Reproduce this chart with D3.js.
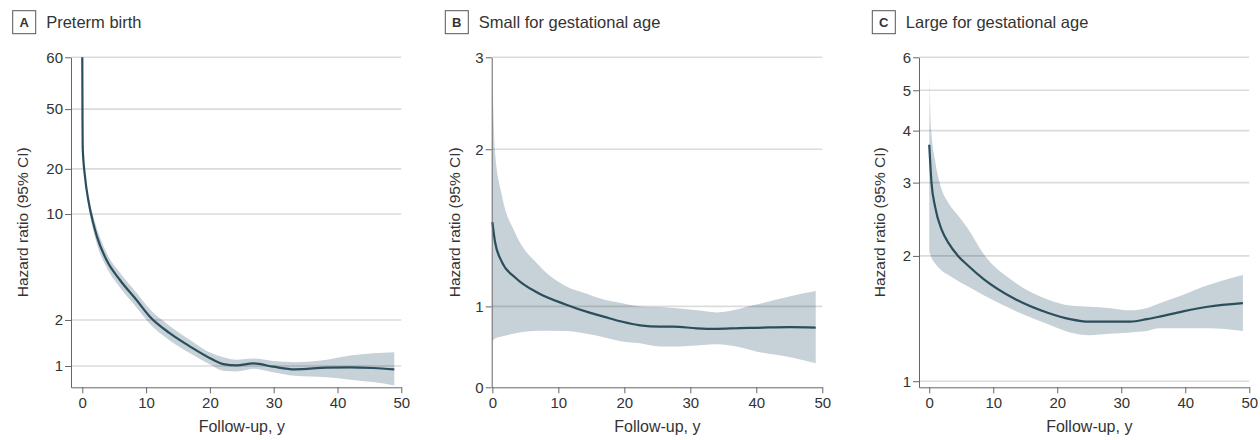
<!DOCTYPE html>
<html>
<head>
<meta charset="utf-8">
<script src="https://cdn.jsdelivr.net/npm/d3@7"></script>
<style>
  body { margin: 0; background: #fff; }
  svg { display: block; font-family: "Liberation Sans", Arial, sans-serif; }
</style>
</head>
<body>
<svg width="1260" height="440"></svg>
<script>
// follow-up years
var xTicks = [0, 10, 20, 30, 40, 50];

// A: preterm birth
var xA   = [0, 0.03, 0.06, 0.42, 0.94, 1.72, 2.3, 3.8, 5.9, 8.5, 10.6, 13.7, 16.9, 20.1, 22.1, 24.2, 26.8, 29.9, 33.3, 38.3, 42, 45.6, 48.9];
var estA = [60, 48, 28, 17.8, 12.4, 8.7, 7.1, 4.97, 3.67, 2.71, 2.10, 1.64, 1.34, 1.12, 1.03, 1.01, 1.04, 0.99, 0.95, 0.975, 0.98, 0.97, 0.95];
var lowA = [60, 46.5, 26.5, 16.7, 11.5, 7.8, 6.3, 4.45, 3.28, 2.42, 1.88, 1.47, 1.21, 1.02, 0.93, 0.92, 0.96, 0.91, 0.86, 0.84, 0.81, 0.78, 0.74];
var upA  = [60, 49.5, 29.5, 19, 13.4, 9.7, 8.0, 5.55, 4.1, 3.03, 2.35, 1.83, 1.48, 1.22, 1.14, 1.10, 1.12, 1.08, 1.06, 1.1, 1.17, 1.21, 1.23];
var yTicksA = [1, 2, 10, 20, 50, 60];
var yLabelsA = ["1", "2", "10", "20", "50", "60"];

// B: small for gestational age
var xB   = [0, 0.4, 1.4, 3.5, 7, 11, 14.5, 17, 19.5, 22.4, 25.4, 27.4, 31, 34, 37.5, 40, 45, 49];
var estB = [1.45, 1.33, 1.22, 1.135, 1.06, 1.01, 0.975, 0.955, 0.936, 0.92, 0.915, 0.915, 0.908, 0.906, 0.909, 0.91, 0.913, 0.911];
var upB  = [2.79, 1.98, 1.64, 1.38, 1.20, 1.095, 1.055, 1.03, 1.015, 1.0, 0.997, 0.993, 0.983, 0.974, 0.99, 1.008, 1.045, 1.07];
var lowB = [0.857, 0.868, 0.876, 0.888, 0.898, 0.897, 0.885, 0.872, 0.858, 0.85, 0.838, 0.838, 0.842, 0.846, 0.835, 0.82, 0.80, 0.778];
var yTicksB = [0.7, 1, 2, 3];
var yLabelsB = ["0", "1", "2", "3"];

// C: large for gestational age
var xC   = [0, 0.35, 0.9, 2, 3, 4.5, 6, 8.5, 13.4, 18.6, 22, 25, 28, 31.4, 34, 36, 39.5, 43.5, 49];
var estC = [3.70, 3.0, 2.63, 2.30, 2.15, 2.0, 1.90, 1.76, 1.576, 1.459, 1.41, 1.39, 1.39, 1.39, 1.41, 1.43, 1.47, 1.51, 1.54];
var upC  = [5.85, 3.95, 3.4, 2.87, 2.68, 2.50, 2.33, 2.02, 1.727, 1.57, 1.52, 1.51, 1.50, 1.48, 1.50, 1.54, 1.61, 1.70, 1.80];
var lowC = [2.05, 1.98, 1.92, 1.84, 1.80, 1.74, 1.69, 1.61, 1.477, 1.37, 1.31, 1.29, 1.30, 1.31, 1.32, 1.34, 1.34, 1.34, 1.32];
var yTicksC = [1, 2, 3, 4, 5, 6];
var yLabelsC = ["1", "2", "3", "4", "5", "6"];

var plotTop = 57.3, plotBottom = 387.3, plotH = plotBottom - plotTop;

var panels = [
    { letter: "A", title: "Preterm birth", left: 71, right: 401.3, xMin: -1.77,
      x: xA, est: estA, low: lowA, up: upA, ticks: yTicksA, labels: yLabelsA,
      // axis is stretched unevenly in the original; positions as fraction of height
      yDomain: [0.72, 1, 2, 10, 20, 50, 60], yPos: [0, 0.0645, 0.204, 0.525, 0.662, 0.843, 1],
      grid: [1, 2, 10, 20, 50, 60], boxX: 12.7, ylabX: 23, fade: false },
    { letter: "B", title: "Small for gestational age", left: 491.7, right: 822.3, xMin: -0.1,
      x: xB, est: estB, low: lowB, up: upB, ticks: yTicksB, labels: yLabelsB,
      yDomain: [0.7, 3], yPos: [0, 1],
      grid: [1, 2, 3], boxX: 445.3, ylabX: 455, fade: false },
    { letter: "C", title: "Large for gestational age", left: 919, right: 1249.3, xMin: -1.6,
      x: xC, est: estC, low: lowC, up: upC, ticks: yTicksC, labels: yLabelsC,
      yDomain: [0.967, 6], yPos: [0, 1],
      grid: [1, 2, 3, 4, 5, 6], boxX: 872.3, ylabX: 880, fade: true }
];

var svg = d3.select("svg");

var defs = svg.append("defs");
var grad = defs.append("linearGradient").attr("id", "fadeC")
    .attr("gradientUnits", "userSpaceOnUse")
    .attr("x1", 0).attr("x2", 0).attr("y1", plotTop).attr("y2", plotTop + 80);
grad.append("stop").attr("offset", 0).attr("stop-color", "#c6d1d8").attr("stop-opacity", 0);
grad.append("stop").attr("offset", 1).attr("stop-color", "#c6d1d8").attr("stop-opacity", 1);

panels.forEach(function(p) {
    var g = svg.append("g");

    var x = d3.scaleLinear().domain([p.xMin, 50]).range([p.left, p.right]);
    var ly = d3.scaleLinear()
        .domain(p.yDomain.map(Math.log))
        .range(p.yPos.map(f => plotBottom - f * plotH));
    var y = v => ly(Math.log(v));

    var rows = p.x.map((d, i) => ({ x: d, est: p.est[i], low: p.low[i], up: p.up[i] }));

    // CI band
    var area = d3.area()
        .x(d => x(d.x))
        .y0(d => y(d.low))
        .y1(d => y(d.up))
        .curve(d3.curveMonotoneX);
    g.append("path").datum(rows)
        .attr("d", area)
        .attr("fill", p.fade ? "url(#fadeC)" : "#c6d1d8");

    // gridlines
    g.selectAll(".grid").data(p.grid).enter()
        .append("line")
        .attr("x1", p.left).attr("x2", p.right)
        .attr("y1", d => y(d)).attr("y2", d => y(d))
        .attr("stroke", "rgba(0,0,0,0.14)")
        .attr("stroke-width", 1.6);

    // estimate line
    var line = d3.line()
        .x(d => x(d.x))
        .y(d => y(d.est))
        .curve(d3.curveMonotoneX);
    g.append("path").datum(rows)
        .attr("d", line)
        .attr("fill", "none")
        .attr("stroke", "#2a4e5b")
        .attr("stroke-width", 2.2);

    // axes
    var yAxis = d3.axisLeft(ly)
        .tickValues(p.ticks.map(Math.log))
        .tickFormat((d, i) => p.labels[i])
        .tickSize(6).tickSizeOuter(0).tickPadding(2);
    g.append("g").attr("transform", "translate(" + p.left + ",0)").call(yAxis)
        .attr("font-size", 15).attr("font-family", null);

    var xAxis = d3.axisBottom(x)
        .tickValues(xTicks)
        .tickSize(6).tickSizeOuter(0).tickPadding(4);
    g.append("g").attr("transform", "translate(0," + plotBottom + ")").call(xAxis)
        .attr("font-size", 15).attr("font-family", null);

    g.selectAll(".domain, .tick line").attr("stroke", "#666");
    g.selectAll(".tick text").attr("fill", "#333");

    // axis titles
    g.append("text")
        .attr("transform", "translate(" + p.ylabX + "," + (plotTop + plotH / 2) + ") rotate(-90)")
        .attr("text-anchor", "middle")
        .attr("dy", "0.35em")
        .attr("font-size", 15.5)
        .attr("fill", "#333")
        .text("Hazard ratio (95% CI)");

    g.append("text")
        .attr("x", (x(0) + x(50)) / 2)
        .attr("y", 432)
        .attr("text-anchor", "middle")
        .attr("font-size", 16)
        .attr("fill", "#333")
        .text("Follow-up, y");

    // panel heading
    g.append("rect")
        .attr("x", p.boxX).attr("y", 10.7)
        .attr("width", 23).attr("height", 23)
        .attr("fill", "#fff").attr("stroke", "#555").attr("stroke-width", 1);
    g.append("text")
        .attr("x", p.boxX + 11.5).attr("y", 27)
        .attr("text-anchor", "middle")
        .attr("font-size", 13).attr("font-weight", "bold")
        .attr("fill", "#333")
        .text(p.letter);
    g.append("text")
        .attr("x", p.boxX + 33.5).attr("y", 28.3)
        .attr("font-size", 16.5)
        .attr("fill", "#333")
        .text(p.title);
});
</script>
</body>
</html>
